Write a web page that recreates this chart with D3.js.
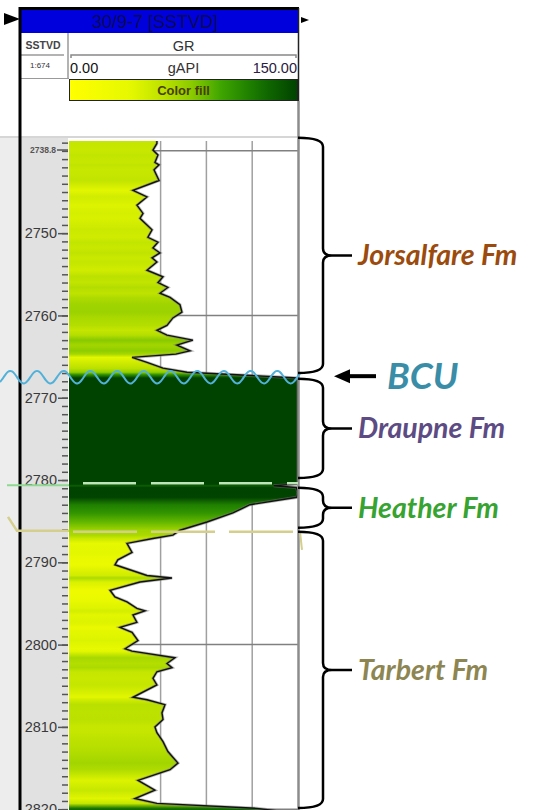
<!DOCTYPE html>
<html>
<head>
<meta charset="utf-8">
<script src="https://cdn.jsdelivr.net/npm/d3@7"></script>
<style>
body { margin: 0; background: #fff; }
svg { display: block; font-family: "Liberation Sans", Arial, sans-serif; }
.fm { font-family: Lato, "Open Sans", sans-serif; font-weight: bold; font-style: italic; }
</style>
</head>
<body>
<svg id="log" width="541" height="810"></svg>
<script>
// GR log (depth in m, GR in gAPI)
var depths = [2738.8, 2739.1, 2739.9, 2740.5, 2741.4, 2741.7, 2742.3, 2743.6, 2744.8, 2745.6,
	2746.6, 2747.6, 2748.2, 2749.0, 2749.6, 2750.5, 2751.1, 2751.8, 2752.4, 2753.0,
	2753.5, 2754.5, 2755.3, 2756.0, 2756.6, 2757.3, 2757.8, 2758.7, 2759.6, 2760.3,
	2761.2, 2761.8, 2762.4, 2763.0, 2763.6, 2764.3, 2764.7, 2765.1, 2765.7, 2766.4,
	2766.9, 2767.2, 2767.6, 2768.0, 2772.0, 2776.0, 2780.0, 2780.5, 2780.7, 2780.9,
	2781.5, 2782.1, 2783.0, 2784.0, 2785.1, 2786.1, 2786.7, 2787.1, 2787.7, 2788.8,
	2789.7, 2790.3, 2791.6, 2791.9, 2792.4, 2793.4, 2794.2, 2794.8, 2795.6, 2795.9,
	2796.4, 2797.3, 2797.9, 2798.5, 2799.5, 2800.5, 2800.8, 2801.6, 2802.3, 2802.8,
	2803.3, 2804.1, 2804.9, 2806.4, 2806.7, 2807.3, 2808.3, 2809.1, 2810.0, 2810.7,
	2811.8, 2813.0, 2814.4, 2815.2, 2816.5, 2817.7, 2818.7, 2819.3, 2819.9, 2820.5];
var grValues = [57.6, 57.6, 55.0, 58.3, 56.3, 59.0, 55.7, 59.0, 41.9, 51.1,
	44.5, 48.5, 46.5, 51.1, 54.4, 51.7, 58.3, 55.0, 59.6, 54.4,
	57.6, 51.1, 61.6, 58.3, 64.8, 59.6, 66.2, 72.7, 74.0, 68.1,
	64.2, 57.6, 64.2, 81.2, 70.7, 79.3, 70.0, 41.3, 51.1, 61.6,
	77.3, 110, 160, 175, 190, 180, 170, 155, 134, 149,
	152, 149.3, 118.6, 107.4, 90.4, 72.7, 68.1, 55.0, 38.0, 41.3,
	32.0, 30.1, 51.1, 67.5, 46.5, 26.9, 30.1, 38.0, 44.5, 49.8,
	41.9, 44.5, 33.4, 41.3, 45.2, 36.7, 41.3, 69.4, 64.2, 67.5,
	57.6, 55.0, 57.6, 41.9, 51.1, 62.9, 60.9, 61.6, 56.3, 57.6,
	61.6, 64.8, 71.4, 66.2, 45.2, 56.3, 43.2, 57.6, 123, 150];

var depthTicks = [2750, 2760, 2770, 2780, 2790, 2800, 2810, 2820];
var gridDepths = [2740, 2760, 2780, 2800, 2820];
var gridValues = [60, 90, 120];

var fmNames = ["Jorsalfare Fm", "Draupne Fm", "Heather Fm", "Tarbert Fm"];
var fmTops = [2738.4, 2767.7, 2780.95, 2786.3];
var fmBases = [2767.0, 2779.75, 2785.8, 2819.85];
var fmColors = ["#9b4b0d", "#5d4b83", "#37a331", "#8d8652"];

var bcuDepth = 2767.5;
var heatherTop = 2780.4;
var tarbertTop = 2786.3;

var svg = d3.select("#log");

var y = d3.scaleLinear().domain([2738.8, 2820.1]).range([141, 810]);
var x = d3.scaleLinear().domain([0, 150]).range([69, 298]).clamp(true);
var color = d3.scaleLinear()
	.domain([0, 40, 60, 80, 100, 125, 150])
	.range(["#ffff00", "#e6f800", "#bfe300", "#8ccb00", "#3ea400", "#147200", "#004200"])
	.clamp(true);

var logData = depths.map(function(d, i) {
	return { depth: d, gr: grValues[i] };
});

var defs = svg.append("defs");

/* vertical gradient coloured by GR at each sample */
var y0 = y(depths[0]), y1 = y(depths[depths.length - 1]);
defs.append("linearGradient")
	.attr("id", "grfill")
	.attr("gradientUnits", "userSpaceOnUse")
	.attr("x1", 0).attr("x2", 0)
	.attr("y1", y0).attr("y2", y1)
	.selectAll("stop")
	.data(logData)
	.enter()
	.append("stop")
	.attr("offset", function(d) { return (y(d.depth) - y0) / (y1 - y0); })
	.attr("stop-color", function(d) { return color(d.gr); });

var legendGrad = defs.append("linearGradient").attr("id", "legend");
d3.range(0, 151, 10).forEach(function(v) {
	legendGrad.append("stop").attr("offset", v / 150).attr("stop-color", color(v));
});

defs.append("clipPath").attr("id", "track")
	.append("rect")
	.attr("x", 69).attr("y", 141)
	.attr("width", 229).attr("height", 680);

/* backgrounds */
svg.append("rect").attr("x", 0).attr("y", 136).attr("width", 20).attr("height", 680).attr("fill", "#ededed");
svg.append("rect").attr("x", 21).attr("y", 138).attr("width", 47).attr("height", 680).attr("fill", "#e1e1e1");
svg.append("line").attr("x1", 0).attr("x2", 298).attr("y1", 137).attr("y2", 137)
	.attr("stroke", "#d6d6d6").attr("stroke-width", 2);

/* header */
svg.append("polygon").attr("points", "4,13 20,19 4,25").attr("fill", "#000");
svg.append("polygon").attr("points", "301,17 309,20 301,23").attr("fill", "#000");
svg.append("rect").attr("x", 21).attr("y", 10).attr("width", 277).attr("height", 23).attr("fill", "#0000dc");
svg.append("line").attr("x1", 19).attr("x2", 299).attr("y1", 8.5).attr("y2", 8.5)
	.attr("stroke", "#000").attr("stroke-width", 3);
svg.append("line").attr("x1", 298.5).attr("x2", 298.5).attr("y1", 8).attr("y2", 101)
	.attr("stroke", "#222").attr("stroke-width", 1.5);
svg.append("text").attr("x", 155).attr("y", 28).attr("text-anchor", "middle")
	.attr("font-size", 18).attr("fill", "#0a0a55").text("30/9-7 [SSTVD]");

svg.append("line").attr("x1", 68).attr("x2", 68).attr("y1", 33).attr("y2", 79)
	.attr("stroke", "#9a9a9a").attr("stroke-width", 1.5);
svg.append("line").attr("x1", 21).attr("x2", 64).attr("y1", 55).attr("y2", 55)
	.attr("stroke", "#9a9a9a").attr("stroke-width", 1.5);
svg.append("line").attr("x1", 21).attr("x2", 69).attr("y1", 78.5).attr("y2", 78.5)
	.attr("stroke", "#9a9a9a").attr("stroke-width", 1);
svg.append("text").attr("x", 43).attr("y", 49).attr("text-anchor", "middle")
	.attr("font-size", 10.5).attr("font-weight", "bold").attr("fill", "#444").text("SSTVD");
svg.append("text").attr("x", 40).attr("y", 68).attr("text-anchor", "middle")
	.attr("font-size", 8).attr("fill", "#333").text("1:674");

svg.append("text").attr("x", x(75)).attr("y", 51).attr("text-anchor", "middle")
	.attr("font-size", 14.5).attr("fill", "#333").text("GR");
svg.append("path")
	.attr("d", "M" + (x(0) + 2) + ",58 V55 H" + (x(150) - 2) + " V58")
	.attr("fill", "none").attr("stroke", "#888").attr("stroke-width", 1.5);
svg.append("text").attr("x", x(0) + 1).attr("y", 73).attr("font-size", 14.5).attr("fill", "#111").text("0.00");
svg.append("text").attr("x", x(75)).attr("y", 73).attr("text-anchor", "middle")
	.attr("font-size", 14.5).attr("fill", "#333").text("gAPI");
svg.append("text").attr("x", x(150) - 1).attr("y", 73).attr("text-anchor", "end")
	.attr("font-size", 14.5).attr("fill", "#2a2040").text("150.00");

svg.append("rect").attr("x", 69.5).attr("y", 79.5).attr("width", 228).attr("height", 21)
	.attr("fill", "url(#legend)").attr("stroke", "#222").attr("stroke-width", 1);
svg.append("text").attr("x", x(75)).attr("y", 95).attr("text-anchor", "middle")
	.attr("font-size", 13).attr("font-weight", "bold").attr("fill", "#4a3d00").text("Color fill");

/* grid under the fill */
var track = svg.append("g").attr("clip-path", "url(#track)");

track.selectAll(".vgrid")
	.data(gridValues)
	.enter()
	.append("line")
	.attr("class", "vgrid")
	.attr("x1", function(d) { return x(d); })
	.attr("x2", function(d) { return x(d); })
	.attr("y1", 141).attr("y2", 820)
	.attr("stroke", "#a0a0a0").attr("stroke-width", 1.5);

track.selectAll(".hgrid")
	.data(gridDepths)
	.enter()
	.append("line")
	.attr("class", "hgrid")
	.attr("x1", 69).attr("x2", 298)
	.attr("y1", function(d) { return y(d); })
	.attr("y2", function(d) { return y(d); })
	.attr("stroke", "#808080").attr("stroke-width", 1.5);

/* colour filled GR area and curve */
var area = d3.area()
	.y(function(d) { return y(d.depth); })
	.x0(x(0))
	.x1(function(d) { return x(d.gr); });

var line = d3.line()
	.y(function(d) { return y(d.depth); })
	.x(function(d) { return x(d.gr); });

track.append("path")
	.datum(logData)
	.attr("d", area)
	.attr("fill", "url(#grfill)");

track.append("path")
	.datum(logData)
	.attr("d", line)
	.attr("fill", "none")
	.attr("stroke", "#777")
	.attr("stroke-width", 3)
	.attr("opacity", 0.5);

track.append("path")
	.datum(logData)
	.attr("d", line)
	.attr("fill", "none")
	.attr("stroke", "#111")
	.attr("stroke-width", 1.4);

/* right border of track */
svg.append("line").attr("x1", 298.5).attr("x2", 298.5).attr("y1", 101).attr("y2", 810)
	.attr("stroke", "#8c8c8c").attr("stroke-width", 2.5);

/* depth axis */
var minor = d3.axisLeft(y)
	.tickValues(d3.range(2739, 2821, 1))
	.tickSize(6)
	.tickFormat("");

svg.append("g")
	.attr("transform", "translate(68,0)")
	.call(minor)
	.call(function(g) { g.select(".domain").remove(); })
	.selectAll("line").attr("stroke", "#555").attr("stroke-width", 1.5);

var major = d3.axisLeft(y)
	.tickValues(depthTicks)
	.tickSize(10)
	.tickPadding(1)
	.tickFormat(d3.format("d"));

var majorG = svg.append("g")
	.attr("transform", "translate(68,0)")
	.call(major)
	.call(function(g) { g.select(".domain").remove(); });
majorG.selectAll("line").attr("stroke", "#555").attr("stroke-width", 1.5);
majorG.selectAll("text")
	.attr("font-size", 14.5)
	.attr("font-family", "Liberation Sans, Arial, sans-serif")
	.attr("fill", "#3a3a3a");

svg.append("line").attr("x1", 57).attr("x2", 68).attr("y1", y(depths[0]) + 9).attr("y2", y(depths[0]) + 9)
	.attr("stroke", "#555").attr("stroke-width", 1.5);
svg.append("text").attr("x", 56).attr("y", y(depths[0]) + 12).attr("text-anchor", "end")
	.attr("font-size", 8.5).attr("font-weight", "bold").attr("fill", "#555").text(depths[0]);

/* left frame */
svg.append("line").attr("x1", 20).attr("x2", 20).attr("y1", 7).attr("y2", 810)
	.attr("stroke", "#000").attr("stroke-width", 3);

/* formation tops */
svg.append("line").attr("x1", 7).attr("x2", 69).attr("y1", y(heatherTop) + 2).attr("y2", y(heatherTop) + 2)
	.attr("stroke", "#8fd88f").attr("stroke-width", 2);
svg.append("line").attr("x1", 83).attr("x2", 298).attr("y1", y(heatherTop)).attr("y2", y(heatherTop))
	.attr("stroke", "#bfe6b8").attr("stroke-width", 2.5).attr("stroke-dasharray", "53,15");

svg.append("path")
	.attr("d", "M8," + (y(tarbertTop) - 15) + " L17," + (y(tarbertTop) - 1) + " H69")
	.attr("fill", "none").attr("stroke", "#d4cf8c").attr("stroke-width", 2.5);
svg.append("line").attr("x1", 73).attr("x2", 298).attr("y1", y(tarbertTop)).attr("y2", y(tarbertTop))
	.attr("stroke", "#d4cf8c").attr("stroke-width", 2.5).attr("stroke-dasharray", "64,14");
svg.append("line").attr("x1", 300).attr("x2", 302).attr("y1", y(tarbertTop)).attr("y2", y(tarbertTop) + 18)
	.attr("stroke", "#d4cf8c").attr("stroke-width", 2);

/* BCU wavy line */
var bcuY = y(bcuDepth);
var wave = d3.line()
	.x(function(d) { return d; })
	.y(function(d) { return bcuY - 6.5 * Math.cos(2 * Math.PI * (d - 37) / 26.7); })
	.curve(d3.curveBasis);
svg.append("path")
	.datum(d3.range(0, 301, 2))
	.attr("d", wave)
	.attr("fill", "none")
	.attr("stroke", "#52b1d8")
	.attr("stroke-width", 2);

/* brackets and labels */
var brace = function(t, b) {
	var ym = (t + b) / 2, xs = 298, xv = 323, xt = 352;
	return "M" + xs + "," + t + " Q" + xv + "," + t + " " + xv + "," + (t + 9) +
		" L" + xv + "," + (ym - 7) + " Q" + xv + "," + ym + " " + (xv + 9) + "," + ym +
		" L" + xt + "," + ym +
		" M" + (xv + 9) + "," + ym + " Q" + xv + "," + ym + " " + xv + "," + (ym + 7) +
		" L" + xv + "," + (b - 9) + " Q" + xv + "," + b + " " + xs + "," + b;
};

var fms = fmNames.map(function(n, i) {
	return { name: n, top: fmTops[i], base: fmBases[i], color: fmColors[i] };
});

svg.selectAll(".brace")
	.data(fms)
	.enter()
	.append("path")
	.attr("class", "brace")
	.attr("d", function(d) { return brace(y(d.top), y(d.base)); })
	.attr("fill", "none")
	.attr("stroke", "#000")
	.attr("stroke-width", 2.5);

svg.selectAll(".fmlabel")
	.data(fms)
	.enter()
	.append("text")
	.attr("class", "fm")
	.attr("x", 358)
	.attr("y", function(d) { return (y(d.top) + y(d.base)) / 2 + 10; })
	.attr("font-size", 28.5)
	.attr("fill", function(d) { return d.color; })
	.text(function(d) { return d.name; });

/* BCU arrow */
svg.append("line").attr("x1", 347).attr("x2", 376).attr("y1", bcuY - 1).attr("y2", bcuY - 1)
	.attr("stroke", "#000").attr("stroke-width", 4);
svg.append("polygon")
	.attr("points", "334," + (bcuY - 1) + " 350," + (bcuY - 8) + " 350," + (bcuY + 6))
	.attr("fill", "#000");
svg.append("text")
	.attr("class", "fm")
	.attr("x", 387)
	.attr("y", bcuY + 12)
	.attr("font-size", 37)
	.attr("fill", "#3a8da7")
	.text("BCU");
</script>
</body>
</html>
